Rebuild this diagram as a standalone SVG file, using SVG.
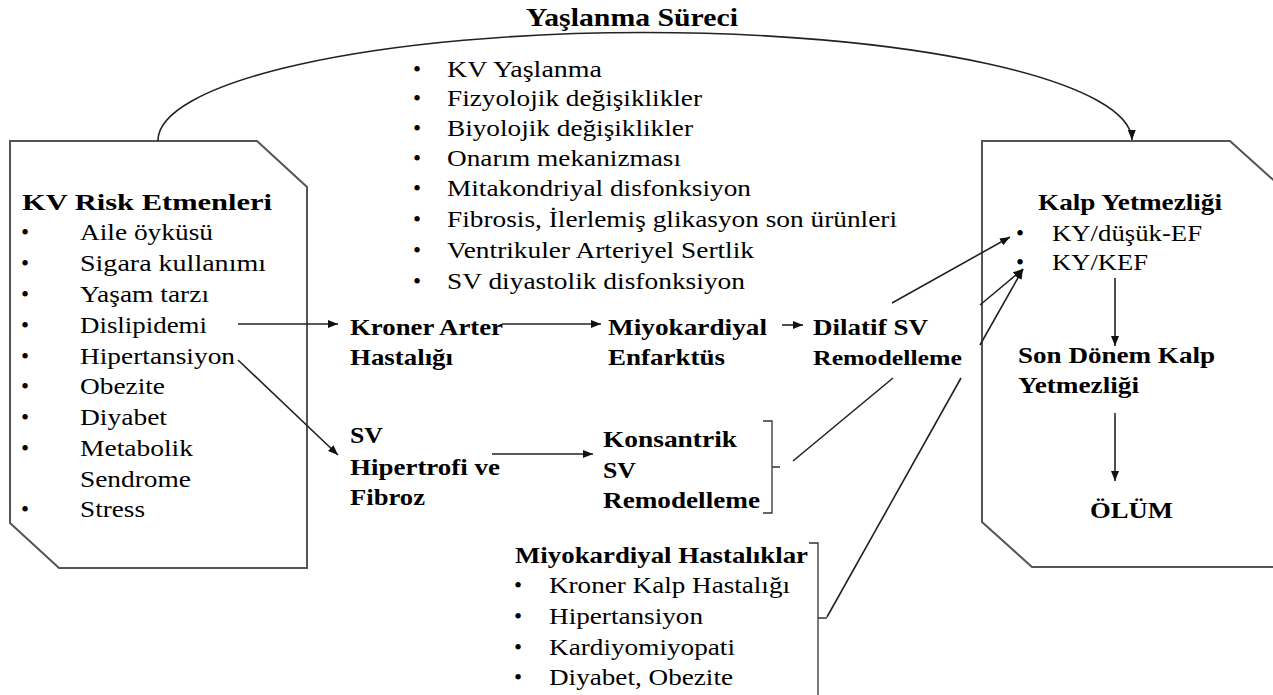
<svg xmlns="http://www.w3.org/2000/svg" width="1273" height="695" viewBox="0 0 1273 695">
<style>
text{font-family:'Liberation Serif','Times New Roman',serif;fill:#000}
.r{font-size:23px}
.b{font-size:24px;font-weight:bold}
.box{fill:#fff;stroke:#555;stroke-width:2}
.ln{fill:none;stroke:#222;stroke-width:1.6}
.br{fill:none;stroke:#333;stroke-width:1.3}
</style>
<defs>
<marker id="ah" markerUnits="userSpaceOnUse" markerWidth="12" markerHeight="10" refX="10" refY="5" orient="auto">
<path d="M0,1 L10,5 L0,9 Z" fill="#111"/>
</marker>
</defs>
<rect width="1273" height="695" fill="#fff"/>

<g id="risk-box">
<path class="box" d="M10,141 H257 L307,187 V568 H59 L10,523 Z"/>
<text class="b" x="22" y="210" textLength="250" lengthAdjust="spacingAndGlyphs">KV Risk Etmenleri</text>
<g class="r">
<text x="21" y="240">•</text><text x="80" y="240" textLength="133" lengthAdjust="spacingAndGlyphs">Aile öyküsü</text>
<text x="21" y="271">•</text><text x="80" y="271" textLength="186" lengthAdjust="spacingAndGlyphs">Sigara kullanımı</text>
<text x="21" y="302">•</text><text x="80" y="302" textLength="129" lengthAdjust="spacingAndGlyphs">Yaşam tarzı</text>
<text x="21" y="333">•</text><text x="80" y="333" textLength="127" lengthAdjust="spacingAndGlyphs">Dislipidemi</text>
<text x="21" y="364">•</text><text x="80" y="364" textLength="155" lengthAdjust="spacingAndGlyphs">Hipertansiyon</text>
<text x="21" y="394">•</text><text x="80" y="394" textLength="85" lengthAdjust="spacingAndGlyphs">Obezite</text>
<text x="21" y="425">•</text><text x="80" y="425" textLength="87" lengthAdjust="spacingAndGlyphs">Diyabet</text>
<text x="21" y="456">•</text><text x="80" y="456" textLength="113" lengthAdjust="spacingAndGlyphs">Metabolik</text>
<text x="80" y="487" textLength="111" lengthAdjust="spacingAndGlyphs">Sendrome</text>
<text x="21" y="517">•</text><text x="80" y="517" textLength="65" lengthAdjust="spacingAndGlyphs">Stress</text>
</g>
</g>

<g id="hf-box">
<path class="box" d="M982,141 H1230 L1280,186 V567 H1032 L982,522 Z"/>
<text class="b" x="1038" y="210" textLength="184" lengthAdjust="spacingAndGlyphs">Kalp Yetmezliği</text>
<g class="r">
<text x="1016" y="241">•</text><text x="1052" y="241" textLength="150" lengthAdjust="spacingAndGlyphs">KY/düşük-EF</text>
<text x="1016" y="270">•</text><text x="1052" y="270" textLength="96" lengthAdjust="spacingAndGlyphs">KY/KEF</text>
</g>
<text class="b" x="1018" y="363" textLength="197" lengthAdjust="spacingAndGlyphs">Son Dönem Kalp</text>
<text class="b" x="1018" y="393" textLength="121" lengthAdjust="spacingAndGlyphs">Yetmezliği</text>
<text class="b" x="1090" y="518" textLength="83" lengthAdjust="spacingAndGlyphs">ÖLÜM</text>
</g>

<g id="title">
<text class="b" x="526" y="26" style="font-size:26px" textLength="212" lengthAdjust="spacingAndGlyphs">Yaşlanma Süreci</text>
</g>

<g id="aging-list" class="r">
<text x="413" y="77">•</text><text x="447" y="77" textLength="155" lengthAdjust="spacingAndGlyphs">KV Yaşlanma</text>
<text x="413" y="106">•</text><text x="447" y="106" textLength="255" lengthAdjust="spacingAndGlyphs">Fizyolojik değişiklikler</text>
<text x="413" y="136">•</text><text x="447" y="136" textLength="246" lengthAdjust="spacingAndGlyphs">Biyolojik değişiklikler</text>
<text x="413" y="166">•</text><text x="447" y="166" textLength="234" lengthAdjust="spacingAndGlyphs">Onarım mekanizması</text>
<text x="413" y="196">•</text><text x="447" y="196" textLength="304" lengthAdjust="spacingAndGlyphs">Mitakondriyal disfonksiyon</text>
<text x="413" y="227">•</text><text x="447" y="227" textLength="450" lengthAdjust="spacingAndGlyphs">Fibrosis, İlerlemiş glikasyon son ürünleri</text>
<text x="413" y="258">•</text><text x="447" y="258" textLength="307" lengthAdjust="spacingAndGlyphs">Ventrikuler Arteriyel Sertlik</text>
<text x="413" y="289">•</text><text x="447" y="289" textLength="298" lengthAdjust="spacingAndGlyphs">SV diyastolik disfonksiyon</text>
</g>

<g id="kah">
<text class="b" x="350" y="335" textLength="153" lengthAdjust="spacingAndGlyphs">Kroner Arter</text>
<text class="b" x="350" y="365" textLength="103" lengthAdjust="spacingAndGlyphs">Hastalığı</text>
</g>

<g id="mi">
<text class="b" x="608" y="335" textLength="159" lengthAdjust="spacingAndGlyphs">Miyokardiyal</text>
<text class="b" x="608" y="365" textLength="117" lengthAdjust="spacingAndGlyphs">Enfarktüs</text>
</g>

<g id="dilatif">
<text class="b" x="813" y="335" textLength="115" lengthAdjust="spacingAndGlyphs">Dilatif SV</text>
<text class="b" x="813" y="365" style="font-size:21px" textLength="149" lengthAdjust="spacingAndGlyphs">Remodelleme</text>
</g>

<g id="sv-hip">
<text class="b" x="350" y="443" textLength="33" lengthAdjust="spacingAndGlyphs">SV</text>
<text class="b" x="350" y="475" textLength="150" lengthAdjust="spacingAndGlyphs">Hipertrofi ve</text>
<text class="b" x="350" y="505" textLength="75" lengthAdjust="spacingAndGlyphs">Fibroz</text>
</g>

<g id="konsantrik">
<text class="b" x="603" y="447" textLength="134" lengthAdjust="spacingAndGlyphs">Konsantrik</text>
<text class="b" x="603" y="478" textLength="33" lengthAdjust="spacingAndGlyphs">SV</text>
<text class="b" x="603" y="508" textLength="157" lengthAdjust="spacingAndGlyphs">Remodelleme</text>
<path class="br" d="M763,421 H772 V513 H763 M772,467 H780"/>
</g>

<g id="myo-dis">
<text class="b" x="515" y="563" style="font-size:23px" textLength="293" lengthAdjust="spacingAndGlyphs">Miyokardiyal Hastalıklar</text>
<g class="r">
<text x="514" y="593">•</text><text x="549" y="593" textLength="241" lengthAdjust="spacingAndGlyphs">Kroner Kalp Hastalığı</text>
<text x="514" y="624">•</text><text x="549" y="624" textLength="154" lengthAdjust="spacingAndGlyphs">Hipertansiyon</text>
<text x="514" y="655">•</text><text x="549" y="655" textLength="186" lengthAdjust="spacingAndGlyphs">Kardiyomiyopati</text>
<text x="514" y="685">•</text><text x="549" y="685" textLength="184" lengthAdjust="spacingAndGlyphs">Diyabet, Obezite</text>
</g>
<path class="br" d="M809,543 H818 V700 M818,618 H827"/>
</g>

<g id="connectors">
<path class="ln" d="M158,141 A487,108 0 0 1 1132,140" marker-end="url(#ah)"/>
<path class="ln" d="M238,324 H338" marker-end="url(#ah)"/>
<path class="ln" d="M502,324 H601" marker-end="url(#ah)"/>
<path class="ln" d="M782,325 H803" marker-end="url(#ah)"/>
<path class="ln" d="M238,360 L338,455" marker-end="url(#ah)"/>
<path class="ln" d="M492,454 H593" marker-end="url(#ah)"/>
<path class="ln" d="M892,303 L1010,237" marker-end="url(#ah)"/>
<path class="ln" d="M793,461 L893,378"/>
<path class="ln" d="M980,305 L1023,269" marker-end="url(#ah)"/>
<path class="ln" d="M827,617 L961,378"/>
<path class="ln" d="M980,345 L1023,269" marker-end="url(#ah)"/>
<path class="ln" d="M1115,278 V346" marker-end="url(#ah)"/>
<path class="ln" d="M1115,413 V481" marker-end="url(#ah)"/>
</g>
</svg>
